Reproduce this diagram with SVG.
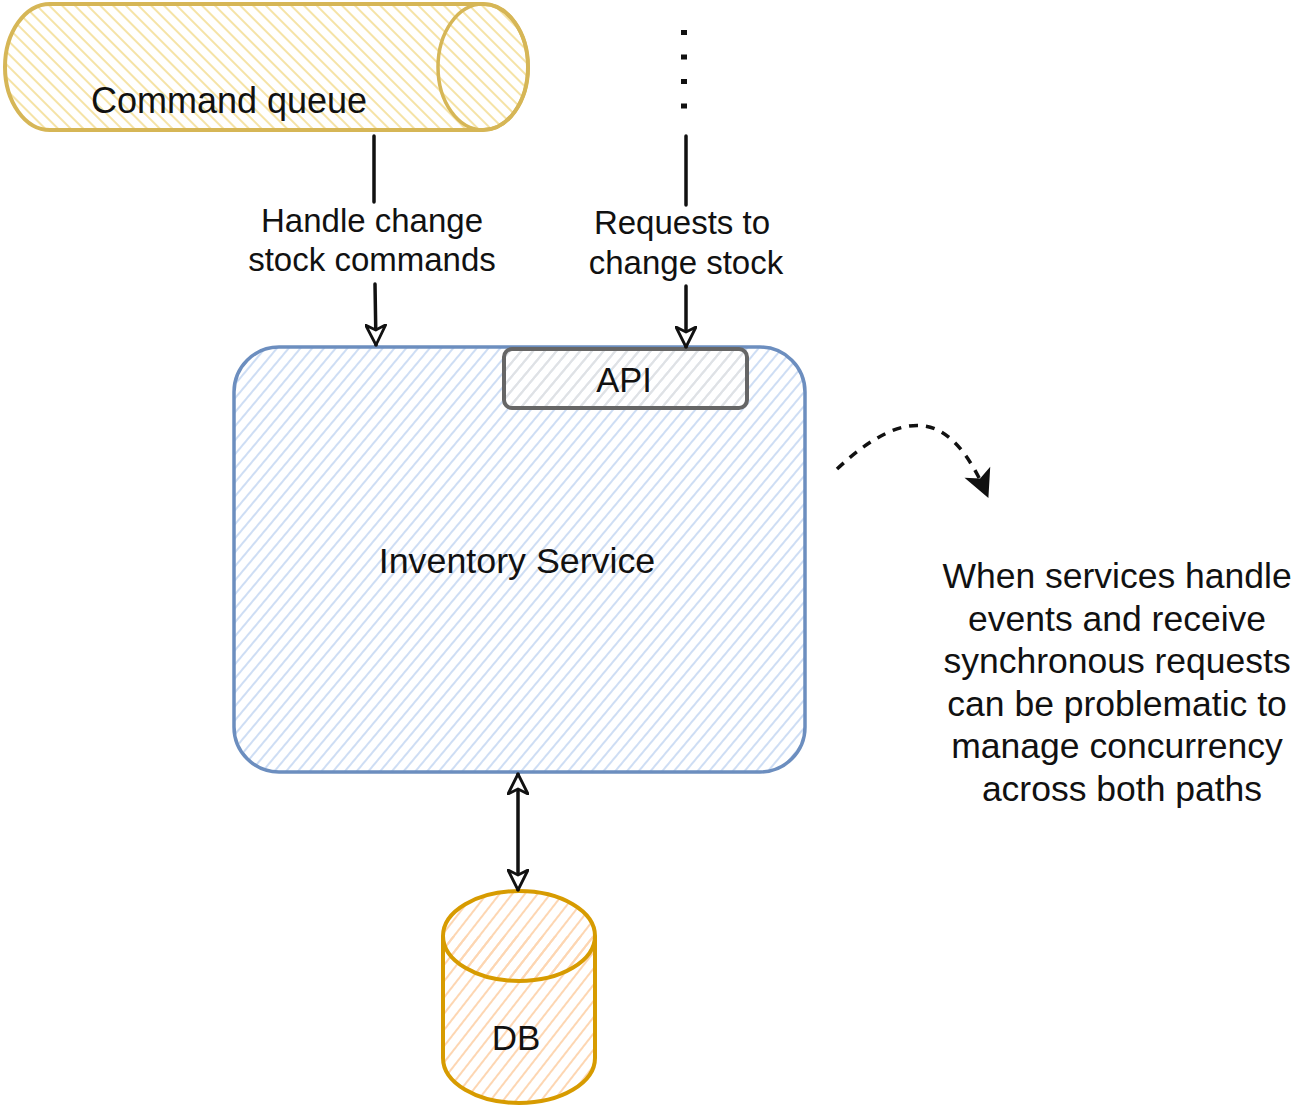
<svg xmlns="http://www.w3.org/2000/svg" width="1304" height="1109" viewBox="0 0 1304 1109">
<defs>
<pattern id="hY" width="9" height="9" patternUnits="userSpaceOnUse" patternTransform="rotate(-45)">
<line x1="4" y1="0" x2="4" y2="9" stroke="#f5e3a6" stroke-width="2"/>
</pattern>
<pattern id="hB" width="9" height="9" patternUnits="userSpaceOnUse" patternTransform="rotate(40)">
<line x1="4" y1="0" x2="4" y2="9" stroke="#c9daf3" stroke-width="1.8"/>
</pattern>
<pattern id="hG" width="9" height="9" patternUnits="userSpaceOnUse" patternTransform="rotate(40)">
<line x1="4" y1="0" x2="4" y2="9" stroke="#e2e2e2" stroke-width="1.8"/>
</pattern>
<pattern id="hO" width="10" height="10" patternUnits="userSpaceOnUse" patternTransform="rotate(38)">
<line x1="4" y1="0" x2="4" y2="10" stroke="#fdd6b2" stroke-width="2"/>
</pattern>
<marker id="open" viewBox="0 0 22 22" refX="21" refY="11" markerWidth="22" markerHeight="22" markerUnits="userSpaceOnUse" orient="auto-start-reverse">
<path d="M1,1 L21,11 L1,21 L6,11 Z" fill="#fff" stroke="#111" stroke-width="2.8" stroke-linejoin="round"/>
</marker>
<marker id="solid" viewBox="0 0 30 30" refX="28" refY="15" markerWidth="30" markerHeight="30" markerUnits="userSpaceOnUse" orient="auto">
<path d="M1,1 L29,15 L1,29 L8,15 Z" fill="#111"/>
</marker>
</defs>
<style>
text{font-family:"Liberation Sans",Arial,sans-serif;fill:#111;text-anchor:middle}
.edge{fill:none;stroke:#111;stroke-width:3.5;stroke-linecap:round}
</style>

<g id="command-queue">
<path d="M50,4 L483,4 A45,63 0 0 1 483,130 L50,130 A45,63 0 0 1 50,4 Z" fill="url(#hY)" stroke="#d6b656" stroke-width="4"/>
<ellipse cx="483" cy="67" rx="45" ry="63" fill="none" stroke="#d6b656" stroke-width="3.5"/>
<text x="229" y="113" font-size="36">Command queue</text>
</g>

<g id="inventory-service">
<rect x="234" y="347" width="571" height="425" rx="45" ry="45" fill="url(#hB)" stroke="#6c8ebf" stroke-width="3.5"/>
<text x="517" y="573" font-size="35.8">Inventory Service</text>
</g>

<g id="api">
<rect x="504" y="349" width="243" height="59" rx="8" ry="8" fill="url(#hG)" stroke="#666666" stroke-width="4"/>
<text x="624" y="392" font-size="34.5">API</text>
</g>

<g id="db">
<path d="M443,936 L443,1058 A76,45 0 0 0 595,1058 L595,936" fill="url(#hO)" stroke="#d79b00" stroke-width="4"/>
<ellipse cx="519" cy="936" rx="76" ry="45" fill="url(#hO)" stroke="#d79b00" stroke-width="4"/>
<text x="516" y="1050" font-size="35">DB</text>
</g>

<g id="note">
<text font-size="35.5">
<tspan x="1122" y="588">When services handle</tspan>
<tspan x="1122" y="631">events and receive</tspan>
<tspan x="1122" y="673">synchronous requests</tspan>
<tspan x="1122" y="716">can be problematic to</tspan>
<tspan x="1122" y="758">manage concurrency</tspan>
<tspan x="1122" y="801">across both paths</tspan>
</text>
</g>

<g id="connectors">
<line class="edge" x1="374" y1="136" x2="374" y2="202"/>
<line class="edge" x1="375" y1="284" x2="376" y2="345" marker-end="url(#open)"/>
<text x="372" y="232" font-size="33">Handle change</text>
<text x="372" y="271" font-size="33">stock commands</text>

<line x1="684" y1="30" x2="684" y2="112" stroke="#111" stroke-width="6" stroke-dasharray="5,19.5"/>
<line class="edge" x1="686" y1="136" x2="686" y2="205"/>
<line class="edge" x1="686" y1="286" x2="686" y2="347" marker-end="url(#open)"/>
<text x="682" y="234" font-size="33">Requests to</text>
<text x="686" y="274" font-size="33">change stock</text>

<line class="edge" x1="518" y1="774" x2="518" y2="890" marker-start="url(#open)" marker-end="url(#open)"/>

<path d="M837,469 C870,438 900,422 925,426 C950,430 970,455 988,497" fill="none" stroke="#111" stroke-width="3.5" stroke-dasharray="9,8" marker-end="url(#solid)"/>
</g>
</svg>
